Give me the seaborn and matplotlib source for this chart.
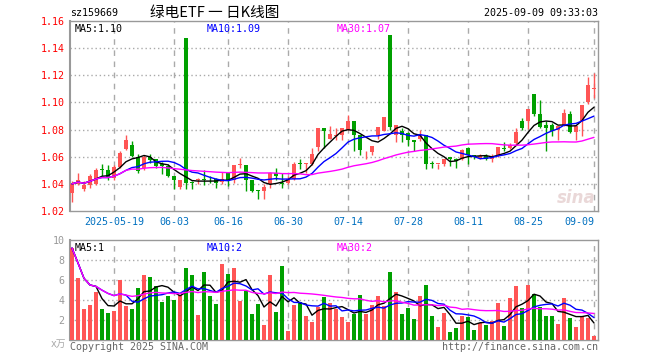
import matplotlib
matplotlib.use("Agg")
import matplotlib.pyplot as plt
import seaborn as sns
import numpy as np
import pandas as pd

# ---- data (88 trading days) ----
opens = [1.0336, 1.040, 1.036, 1.039, 1.040, 1.0505, 1.0505, 1.044, 1.0525, 1.0655,
         1.0685, 1.060, 1.0515, 1.060, 1.058, 1.055, 1.0535, 1.0455, 1.0375, 1.1476,
         1.041, 1.043, 1.0435, 1.043, 1.0435, 1.0412, 1.048, 1.043, 1.054, 1.0537,
         1.0425, 1.035, 1.035, 1.040, 1.048, 1.0405, 1.0405, 1.0435, 1.0555, 1.0545,
         1.0545, 1.0675, 1.0812, 1.0732, 1.0755, 1.0763, 1.080, 1.0866, 1.0758, 1.0625,
         1.0633, 1.0763, 1.0787, 1.1495, 1.0763, 1.0792, 1.0775, 1.0726, 1.0733, 1.0763,
         1.0552, 1.0547, 1.055, 1.0601, 1.0586, 1.058, 1.0665, 1.061, 1.059, 1.0605,
         1.058, 1.0605, 1.0665, 1.0665, 1.070, 1.086, 1.086, 1.1064, 1.0917, 1.0836,
         1.0836, 1.080, 1.0824, 1.0917, 1.078, 1.086, 1.100, 1.110]
highs = [1.042, 1.048, 1.042, 1.047, 1.052, 1.055, 1.054, 1.054, 1.064, 1.076,
         1.0715, 1.062, 1.061, 1.062, 1.0585, 1.056, 1.055, 1.046, 1.043, 1.1476,
         1.042, 1.0445, 1.0505, 1.046, 1.0445, 1.0485, 1.0485, 1.0537, 1.0587, 1.054,
         1.0425, 1.0355, 1.040, 1.0485, 1.0517, 1.048, 1.0455, 1.0562, 1.0585, 1.0555,
         1.0667, 1.0812, 1.0812, 1.0825, 1.081, 1.0815, 1.091, 1.0866, 1.0758, 1.064,
         1.0682, 1.0816, 1.0895, 1.1495, 1.0836, 1.0812, 1.078, 1.0726, 1.0794, 1.0763,
         1.0567, 1.055, 1.0586, 1.0601, 1.059, 1.066, 1.067, 1.0615, 1.062, 1.062,
         1.062, 1.0675, 1.071, 1.070, 1.0812, 1.0885, 1.0953, 1.1064, 1.102, 1.086,
         1.0845, 1.0826, 1.0954, 1.0939, 1.0824, 1.0983, 1.119, 1.1216]
lows = [1.027, 1.0393, 1.035, 1.037, 1.039, 1.046, 1.043, 1.043, 1.0515, 1.065,
        1.0595, 1.048, 1.0505, 1.0555, 1.0515, 1.0475, 1.045, 1.036, 1.0365, 1.036,
        1.036, 1.040, 1.0395, 1.0405, 1.0368, 1.040, 1.0385, 1.041, 1.0517, 1.0348,
        1.0337, 1.0285, 1.0292, 1.0367, 1.043, 1.0367, 1.040, 1.043, 1.051, 1.048,
        1.054, 1.0642, 1.0667, 1.0727, 1.0726, 1.0726, 1.0795, 1.064, 1.061, 1.0586,
        1.0615, 1.0733, 1.0787, 1.080, 1.0709, 1.071, 1.0677, 1.064, 1.0714, 1.0511,
        1.0518, 1.0508, 1.053, 1.0535, 1.0517, 1.0575, 1.055, 1.058, 1.0585, 1.0575,
        1.056, 1.060, 1.064, 1.066, 1.069, 1.080, 1.0807, 1.0902, 1.081, 1.064,
        1.075, 1.0726, 1.0824, 1.0775, 1.0726, 1.0755, 1.099, 1.1032]
closes = [1.040, 1.0425, 1.039, 1.046, 1.0505, 1.050, 1.0445, 1.0525, 1.0625, 1.072,
          1.0605, 1.0495, 1.060, 1.0575, 1.0535, 1.0535, 1.0455, 1.043, 1.0425, 1.0407,
          1.0405, 1.0435, 1.043, 1.0425, 1.041, 1.0437, 1.043, 1.0537, 1.0545, 1.0425,
          1.035, 1.0348, 1.038, 1.048, 1.0455, 1.040, 1.0435, 1.055, 1.055, 1.055,
          1.062, 1.0812, 1.079, 1.0765, 1.0763, 1.0812, 1.0866, 1.0763, 1.065, 1.0628,
          1.0682, 1.0816, 1.0895, 1.0816, 1.0836, 1.0758, 1.0726, 1.0709, 1.0763, 1.055,
          1.055, 1.055, 1.0586, 1.0586, 1.0572, 1.065, 1.061, 1.0595, 1.0605, 1.058,
          1.0605, 1.067, 1.066, 1.069, 1.078, 1.0812, 1.0953, 1.0917, 1.0818, 1.0815,
          1.079, 1.0824, 1.0922, 1.078, 1.0824, 1.0983, 1.113, 1.1106]
# volume in 10k units
volume = [9.2, 6.2, 3.1, 3.5, 4.8, 3.1, 2.7, 2.9, 6.0, 3.4,
          3.1, 5.2, 6.5, 6.3, 5.4, 3.8, 4.4, 4.0, 4.5, 7.2,
          6.5, 2.5, 6.8, 4.4, 3.6, 7.6, 6.6, 7.2, 3.9, 4.9,
          2.6, 3.6, 1.5, 6.5, 2.8, 7.4, 0.9, 3.5, 3.8, 2.4,
          1.8, 3.3, 4.3, 3.7, 3.1, 2.3, 1.8, 2.6, 4.5, 2.6,
          3.5, 4.4, 3.4, 6.8, 4.8, 2.6, 3.2, 2.1, 4.4, 5.5,
          2.4, 1.3, 2.7, 0.8, 1.2, 2.4, 2.3, 1.0, 1.7, 1.5,
          1.9, 3.7, 1.4, 4.2, 5.4, 3.2, 5.5, 4.6, 3.3, 2.4,
          2.4, 1.6, 4.2, 2.2, 1.3, 2.4, 2.2, 0.4]
tick_idx = [7, 17, 26, 36, 46, 56, 66, 76, 87]
tick_labels = ["2025-05-19", "06-03", "06-16", "06-30", "07-14", "07-28", "08-11", "08-25", "09-09"]
price_ticks = [1.02, 1.04, 1.06, 1.08, 1.10, 1.12, 1.14, 1.16]
vol_ticks = [2, 4, 6, 8, 10]

df = pd.DataFrame({"o": opens, "h": highs, "l": lows, "c": closes, "v": volume})
df["x"] = np.arange(len(df))
for n in (5, 10, 30):
    df[f"ma{n}"] = df["c"].rolling(n, min_periods=1).mean()
    df[f"vma{n}"] = df["v"].rolling(n, min_periods=1).mean()

RED = "#ff5555"
GREEN = "#00a000"
up = df["c"] >= df["o"]
colors = np.where(up, RED, GREEN)

sns.set_style("white")
plt.rcParams["font.family"] = ["DejaVu Sans Mono", "Noto Sans CJK SC"]

fig = plt.figure(figsize=(6.6, 3.6), dpi=100)
W, H = 660, 360
ax = fig.add_axes([70 / W, (H - 211) / H, 528 / W, 190 / H])
axv = fig.add_axes([70 / W, (H - 340) / H, 528 / W, 100 / H])
xlim = (-1 / 3, 87 + 2 / 3)
BW = 0.78

# ---- candles ----
body_bot = np.minimum(df["o"], df["c"])
body_h = np.maximum(np.abs(df["c"] - df["o"]), 0.0006)
ax.vlines(df["x"], df["l"], df["h"], colors=colors, lw=1, zorder=3)
ax.bar(df["x"], body_h, bottom=body_bot, width=BW, color=colors, linewidth=0,
       antialiased=False, zorder=4)
sns.lineplot(data=df, x="x", y="ma5", ax=ax, color="black", lw=1, zorder=5)
sns.lineplot(data=df, x="x", y="ma10", ax=ax, color="#0000ff", lw=1, zorder=5)
sns.lineplot(data=df, x="x", y="ma30", ax=ax, color="#ff00ff", lw=1, zorder=5)

ax.set_xlim(*xlim)
ax.set_ylim(1.02, 1.16)
ax.set_yticks(price_ticks)
ax.set_yticklabels([f"{t:.2f}" for t in price_ticks])
ax.tick_params(axis="y", colors="red", length=0, pad=4, labelsize=7.2)
ax.set_xticks(tick_idx)
ax.set_xticklabels(tick_labels)
ax.tick_params(axis="x", colors="#0070c0", length=0, pad=4, labelsize=7.2)
lbls = ax.get_xticklabels()
lbls[-1].set_ha("right")
ax.set_xlabel("")
ax.set_ylabel("")
for t in price_ticks[1:-1]:
    ax.axhline(t, color="#aaaaaa", lw=1, ls=(0, (1, 2)), zorder=1)
for t in tick_idx:
    ax.axvline(t, color="#aaaaaa", lw=1, ls=(0, (4, 4)), zorder=1)
ax.text(0.008, 0.985, "MA5:1.10", transform=ax.transAxes, color="black", fontsize=7.2, va="top")
ax.text(0.258, 0.985, "MA10:1.09", transform=ax.transAxes, color="#0000ff", fontsize=7.2, va="top")
ax.text(0.505, 0.985, "MA30:1.07", transform=ax.transAxes, color="#ff00ff", fontsize=7.2, va="top")
ax.text(0.995, 0.02, "sina", transform=ax.transAxes, color="#ead8d8", fontsize=12,
        fontweight="bold", style="italic", ha="right", va="bottom", family="DejaVu Sans", zorder=2)

# ---- volume ----
axv.bar(df["x"], df["v"], width=BW, color=colors, linewidth=0, antialiased=False, zorder=3)
sns.lineplot(data=df, x="x", y="vma5", ax=axv, color="black", lw=1, zorder=5)
sns.lineplot(data=df, x="x", y="vma10", ax=axv, color="#0000ff", lw=1, zorder=5)
sns.lineplot(data=df, x="x", y="vma30", ax=axv, color="#ff00ff", lw=1, zorder=5)
axv.set_xlim(*xlim)
axv.set_ylim(0, 10)
axv.set_yticks(vol_ticks)
axv.tick_params(axis="y", colors="#999999", length=0, pad=4, labelsize=7.2)
axv.set_xticks([])
axv.set_xlabel("")
axv.set_ylabel("")
for t in vol_ticks[:-1]:
    axv.axhline(t, color="#aaaaaa", lw=1, ls=(0, (1, 2)), zorder=1)
for t in tick_idx:
    axv.axvline(t, color="#aaaaaa", lw=1, ls=(0, (4, 4)), zorder=1)
axv.text(0.008, 0.97, "MA5:1", transform=axv.transAxes, color="black", fontsize=7.2, va="top")
axv.text(0.258, 0.97, "MA10:2", transform=axv.transAxes, color="#0000ff", fontsize=7.2, va="top")
axv.text(0.505, 0.97, "MA30:2", transform=axv.transAxes, color="#ff00ff", fontsize=7.2, va="top")

for a in (ax, axv):
    for s in a.spines.values():
        s.set_color("#999999")
        s.set_linewidth(1)
    a.spines["left"].set_linewidth(1.5)
    a.set_facecolor("white")

# ---- header / footer texts ----
fig.text(70 / W, 1 - 13 / H, "sz159669", fontsize=7.2, color="black", va="center")
fig.text(150 / W, 1 - 13 / H, "绿电ETF 一 日K线图", fontsize=10.5, color="black", va="center",
         family=["Noto Sans CJK SC", "DejaVu Sans"])
fig.text(598 / W, 1 - 13 / H, "2025-09-09 09:33:03", fontsize=7.2, color="black", va="center", ha="right")
fig.text(66 / W, 1 - 344 / H, "x万", fontsize=7, color="#aaaaaa", va="center", ha="right",
         family=["DejaVu Sans", "Noto Sans CJK SC"])
fig.text(70 / W, 1 - 347 / H, "Copyright 2025 SINA.COM", fontsize=7.2, color="#666666", va="center")
fig.text(598 / W, 1 - 347 / H, "http://finance.sina.com.cn", fontsize=7.2, color="#666666",
         va="center", ha="right")

fig.savefig("out.png", dpi=100, facecolor="white")
